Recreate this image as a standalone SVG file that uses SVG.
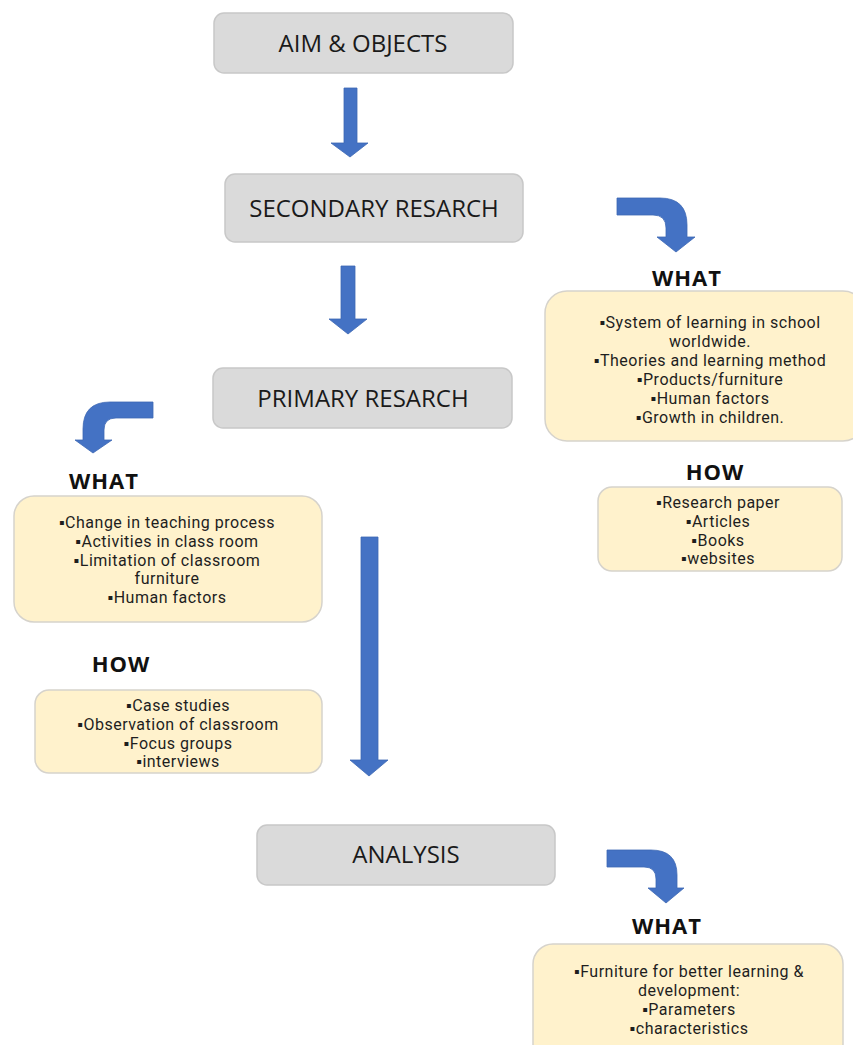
<svg xmlns="http://www.w3.org/2000/svg" width="853" height="1045" viewBox="0 0 853 1045">
<style>
.gbox{fill:#DADADA;stroke:#C8C8C8;stroke-width:1.5}
.ybox{fill:#FFF2CC;stroke:#D6D3CC;stroke-width:1.5}
.head{font-family:"Open Sans","Liberation Sans",sans-serif;font-size:24px;fill:#1A1A1A;text-anchor:middle}
.lbl{font-family:"Open Sans","Liberation Sans",sans-serif;font-size:22px;font-weight:bold;fill:#111;text-anchor:middle;letter-spacing:1px}
.body{font-family:Roboto,"Liberation Sans",sans-serif;font-size:16px;fill:#1E1E1E;text-anchor:middle;letter-spacing:0.5px}
.arrow{fill:#4472C4;stroke:#3E68B4;stroke-width:0.8}
</style>
<rect width="853" height="1045" fill="#FFFFFF"/>
<g id="connectors">
<path class="arrow" d="M344,88 L357,88 L357,143 L368,143 L350,157 L331,143 L344,143 Z"/>
<path class="arrow" d="M341,266 L355,266 L355,319 L367,319 L348,334 L329,319 L341,319 Z"/>
<path class="arrow" d="M361,537 L378,537 L378,760 L388,760 L369,776 L350,760 L361,760 Z"/>
<path class="arrow" d="M617,198 L660,198 Q687,198 687,225 L687,237 L695,237 L676,252 L657,237 L666,237 L666,228 Q666,215 653,215 L617,215 Z"/>
<path class="arrow" d="M153,402 L110,402 Q83,402 83,429 L83,440 L75,440 L93,453 L112,440 L104,440 L104,430 Q104,418 116,418 L153,418 Z"/>
<path class="arrow" d="M607,850 L651,850 Q677,850 677,875 L677,888 L684,888 L666,903 L648,888 L656,888 L656,879 Q656,867 644,867 L607,867 Z"/>
</g>
<g id="aim">
<rect class="gbox" x="214" y="13" width="299" height="60" rx="10"/>
<text class="head" x="363" y="52">AIM &amp; OBJECTS</text>
</g>
<g id="secondary">
<rect class="gbox" x="225" y="174" width="298" height="68" rx="10"/>
<text class="head" x="374" y="217">SECONDARY RESARCH</text>
</g>
<g id="primary">
<rect class="gbox" x="213" y="368" width="299" height="60" rx="10"/>
<text class="head" x="363" y="407">PRIMARY RESARCH</text>
</g>
<g id="analysis">
<rect class="gbox" x="257" y="825" width="298" height="60" rx="10"/>
<text class="head" x="406" y="863">ANALYSIS</text>
</g>
<g id="sec-what">
<text class="lbl" x="687" y="286">WHAT</text>
<rect class="ybox" x="545" y="291" width="320" height="150" rx="22"/>
<text class="body" x="710" y="328">▪System of learning in school</text>
<text class="body" x="710" y="347">worldwide.</text>
<text class="body" x="710" y="366">▪Theories and learning method</text>
<text class="body" x="710" y="385">▪Products/furniture</text>
<text class="body" x="710" y="404">▪Human factors</text>
<text class="body" x="710" y="423">▪Growth in children.</text>
</g>
<g id="sec-how">
<text class="lbl" x="715" y="480">HOW</text>
<rect class="ybox" x="598" y="487" width="244" height="84" rx="14"/>
<text class="body" x="718" y="508">▪Research paper</text>
<text class="body" x="718" y="526.8">▪Articles</text>
<text class="body" x="718" y="545.6">▪Books</text>
<text class="body" x="718" y="564.4">▪websites</text>
</g>
<g id="pri-what">
<text class="lbl" x="104" y="489">WHAT</text>
<rect class="ybox" x="14" y="496" width="308" height="126" rx="20"/>
<text class="body" x="167" y="528">▪Change in teaching process</text>
<text class="body" x="167" y="546.8">▪Activities in class room</text>
<text class="body" x="167" y="565.6">▪Limitation of classroom</text>
<text class="body" x="167" y="584.4">furniture</text>
<text class="body" x="167" y="603.2">▪Human factors</text>
</g>
<g id="pri-how">
<text class="lbl" x="121" y="672">HOW</text>
<rect class="ybox" x="35" y="690" width="287" height="83" rx="14"/>
<text class="body" x="178" y="711">▪Case studies</text>
<text class="body" x="178" y="729.8">▪Observation of classroom</text>
<text class="body" x="178" y="748.6">▪Focus groups</text>
<text class="body" x="178" y="767.4">▪interviews</text>
</g>
<g id="ana-what">
<text class="lbl" x="667" y="934">WHAT</text>
<rect class="ybox" x="533" y="944" width="310" height="120" rx="20"/>
<text class="body" x="689" y="977">▪Furniture for better learning &amp;</text>
<text class="body" x="689" y="996">development:</text>
<text class="body" x="689" y="1015">▪Parameters</text>
<text class="body" x="689" y="1034">▪characteristics</text>
</g>
</svg>
